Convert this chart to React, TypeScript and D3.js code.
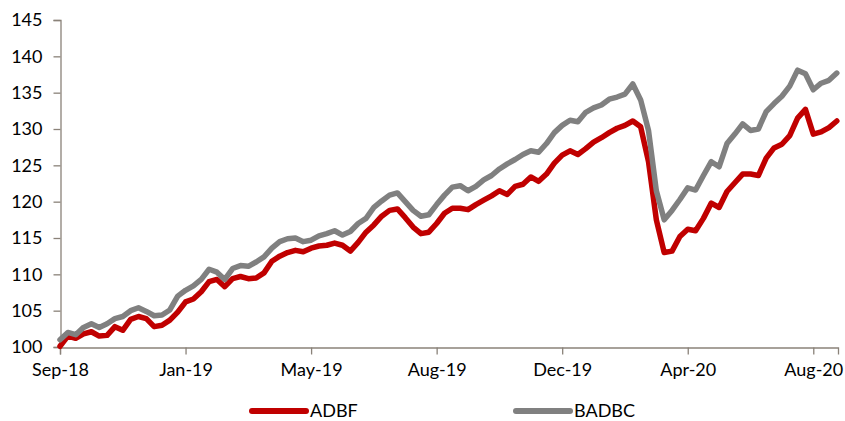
import { useEffect, useRef } from 'react'
import * as d3 from 'd3'

const WIDTH = 845
const HEIGHT = 421
const MARGIN = { top: 20, right: 7, bottom: 74, left: 60 }

// Category axis: one label every 16 points
const TICK_LABELS = ['Sep-18', 'Jan-19', 'May-19', 'Aug-19', 'Dec-19', 'Apr-20', 'Aug-20']
const TICK_EVERY = 16
const Y_TICKS = [100, 105, 110, 115, 120, 125, 130, 135, 140, 145]

const ADBF = [
  100.1, 101.5, 101.2, 101.8, 102.1, 101.5, 101.6, 102.8, 102.3, 103.8,
  104.2, 103.9, 102.8, 103.0, 103.7, 104.8, 106.2, 106.6, 107.6, 109.0,
  109.3, 108.3, 109.4, 109.7, 109.4, 109.5, 110.2, 111.8, 112.5, 113.0,
  113.3, 113.1, 113.6, 113.9, 114.0, 114.3, 114.0, 113.2, 114.4, 115.8,
  116.8, 118.0, 118.8, 119.0, 117.8, 116.5, 115.6, 115.8, 117.0, 118.4,
  119.1, 119.1, 118.9, 119.6, 120.2, 120.8, 121.5, 121.0, 122.1, 122.4,
  123.4, 122.8, 123.8, 125.3, 126.4, 127.0, 126.5, 127.3, 128.2, 128.8,
  129.5, 130.1, 130.5, 131.1, 130.3, 125.5, 117.5, 113.0, 113.2, 115.2,
  116.2, 116.0, 117.7, 119.8, 119.2, 121.4, 122.6, 123.8, 123.8, 123.6,
  126.0, 127.4, 127.9, 129.1, 131.5, 132.7, 129.3, 129.6, 130.2, 131.1,
]

const BADBC = [
  101.0, 102.0, 101.7, 102.7, 103.2, 102.7, 103.2, 103.9, 104.2, 105.0,
  105.4, 104.9, 104.3, 104.4, 105.1, 107.0, 107.8, 108.4, 109.3, 110.7,
  110.3, 109.3, 110.8, 111.2, 111.1, 111.7, 112.4, 113.6, 114.5, 114.9,
  115.0, 114.5, 114.7, 115.3, 115.6, 116.0, 115.4, 115.9, 117.0, 117.7,
  119.2, 120.1, 120.9, 121.2, 120.0, 118.8, 118.0, 118.2, 119.6, 120.9,
  122.0, 122.2, 121.5, 122.1, 123.0, 123.6, 124.5, 125.2, 125.8, 126.5,
  127.0, 126.8, 128.0, 129.5, 130.5, 131.2, 131.0, 132.3, 132.9, 133.3,
  134.1, 134.4, 134.8, 136.2, 134.0, 129.8, 121.5, 117.5, 118.8, 120.3,
  121.9, 121.6, 123.6, 125.5, 124.8, 128.0, 129.3, 130.7, 129.8, 130.0,
  132.4, 133.5, 134.5, 135.9, 138.1, 137.6, 135.4, 136.3, 136.7, 137.7,
]

const SERIES = [
  { name: 'ADBF', values: ADBF, color: '#C00000' },
  { name: 'BADBC', values: BADBC, color: '#808080' },
]

const AXIS_COLOR = '#8a8279'
const FONT = 'Lato, "Open Sans", sans-serif'

export default function App() {
  const svgRef = useRef<SVGSVGElement | null>(null)

  useEffect(() => {
    if (!svgRef.current) return
    const svg = d3.select(svgRef.current)
    svg.selectAll('*').remove()

    const innerW = WIDTH - MARGIN.left - MARGIN.right
    const x = d3.scaleLinear()
      .domain([0, 99.15]) // axis runs a touch past the last point
      .range([MARGIN.left, MARGIN.left + innerW])
    const y = d3.scaleLinear()
      .domain([100, 145])
      .range([HEIGHT - MARGIN.bottom, MARGIN.top])

    // y axis
    const yAxis = svg.append('g')
      .attr('transform', `translate(${MARGIN.left + 0.5},0)`)
      .call(d3.axisLeft(y).tickValues(Y_TICKS).tickSize(7).tickPadding(11).tickFormat(d3.format('d')))
    yAxis.select('.domain').attr('stroke', AXIS_COLOR).attr('stroke-width', 1.3)
    yAxis.selectAll('.tick line').attr('stroke', AXIS_COLOR).attr('stroke-width', 1.3)
    yAxis.selectAll('.tick text')
      .attr('font-family', FONT)
      .attr('font-size', 18)
      .attr('fill', '#000')

    // x axis
    const tickIdx = TICK_LABELS.map((_, i) => i * TICK_EVERY)
    const xAxis = svg.append('g')
      .attr('transform', `translate(0,${y(100) + 0.5})`)
      .call(d3.axisBottom(x).tickValues(tickIdx).tickSize(7).tickPadding(9)
        .tickFormat((_, i) => TICK_LABELS[i]))
    xAxis.select('.domain').attr('stroke', AXIS_COLOR).attr('stroke-width', 1.3)
    xAxis.selectAll('.tick line').attr('stroke', AXIS_COLOR).attr('stroke-width', 1.3)
    xAxis.selectAll('.tick text')
      .attr('font-family', FONT)
      .attr('font-size', 18)
      .attr('fill', '#000')

    // series lines
    const line = d3.line<number>()
      .x((_, i) => x(i))
      .y(d => y(d))

    svg.append('g')
      .selectAll('path')
      .data(SERIES)
      .enter()
      .append('path')
      .attr('d', d => line(d.values))
      .attr('fill', 'none')
      .attr('stroke', d => d.color)
      .attr('stroke-width', 5.5)
      .attr('stroke-linejoin', 'round')
      .attr('stroke-linecap', 'round')

    // legend
    const legend = svg.append('g')
      .selectAll('g')
      .data(SERIES)
      .enter()
      .append('g')
      .attr('transform', (_, i) => `translate(${[252, 516][i]},411)`)
    legend.append('line')
      .attr('x1', 0)
      .attr('x2', 54)
      .attr('stroke', d => d.color)
      .attr('stroke-width', 6)
      .attr('stroke-linecap', 'round')
    legend.append('text')
      .attr('x', 58)
      .attr('dy', '0.36em')
      .attr('font-family', FONT)
      .attr('font-size', 18)
      .attr('fill', '#000')
      .text(d => d.name)
  }, [])

  return (
    <svg
      ref={svgRef}
      width={WIDTH}
      height={HEIGHT}
      style={{ position: 'absolute', left: 0, top: 0, background: '#fff' }}
    />
  )
}
